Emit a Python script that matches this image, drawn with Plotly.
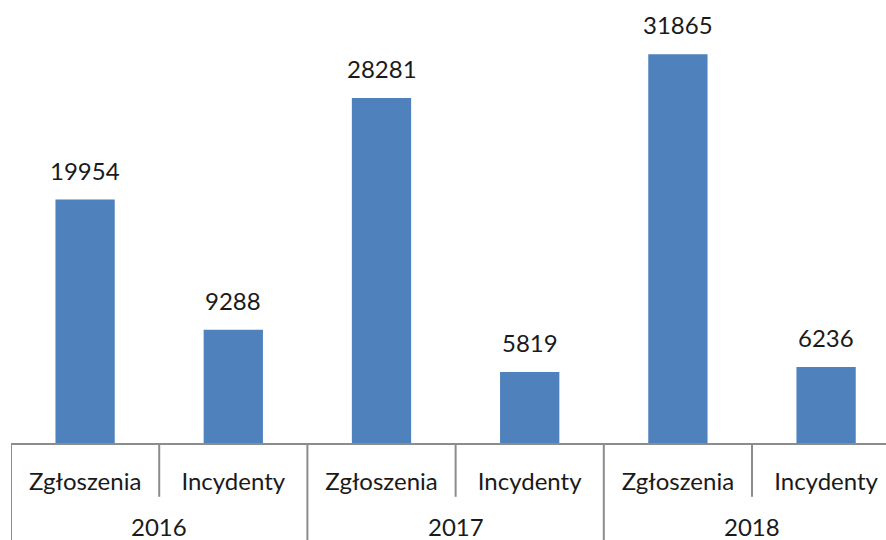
import plotly.graph_objects as go

# Yearly counts of reports (Zgłoszenia) and incidents (Incydenty)
years = ["2016", "2017", "2018"]
kinds = ["Zgłoszenia", "Incydenty"]
values = [19954, 9288, 28281, 5819, 31865, 6236]

labels = [k for _ in years for k in kinds]
xpos = list(range(len(values)))

BAR = "#4F81BD"
GRID = "#8C8C8C"
FONT = "Lato"
FS = 24

fig = go.Figure(
    go.Bar(
        x=xpos,
        y=values,
        width=0.4,
        marker=dict(color=BAR, line=dict(width=0)),
        hoverinfo="skip",
    )
)

# value labels above each bar
for x, v in zip(xpos, values):
    fig.add_annotation(
        x=x, y=v, xref="x", yref="y", text=str(v), showarrow=False,
        yanchor="bottom", yshift=13,
        font=dict(family=FONT, size=FS, color="#1a1a1a"),
    )

# year labels below the category row
n_kind = len(kinds)
for i, yr in enumerate(years):
    fig.add_annotation(
        x=i * n_kind + (n_kind - 1) / 2, y=-0.195, xref="x", yref="paper",
        text=yr, showarrow=False, yanchor="middle",
        font=dict(family=FONT, size=FS, color="#1a1a1a"),
    )

# divider lines under the axis: short ones between kinds, long ones between years
shapes = []
for b in range(len(values)):
    x = b - 0.5
    long_line = (b % n_kind == 0)
    shapes.append(dict(
        type="line", xref="x", yref="paper", x0=x, x1=x,
        y0=0, y1=-0.3 if long_line else -0.126,
        line=dict(color=GRID, width=2),
    ))
fig.update_layout(shapes=shapes)

fig.update_layout(
    width=886, height=540,
    margin=dict(l=11, r=0, t=16, b=97),
    plot_bgcolor="white", paper_bgcolor="white",
    showlegend=False,
    xaxis=dict(
        range=[-0.5, -0.5 + 875 / 148.2],
        tickmode="array", tickvals=xpos, ticktext=labels,
        showgrid=False, zeroline=False,
        showline=True, linecolor=GRID, linewidth=2,
        ticks="", ticklabelstandoff=16,
        tickfont=dict(family=FONT, size=FS, color="#1a1a1a"),
        fixedrange=True,
    ),
    yaxis=dict(
        range=[0, 35000], visible=False, fixedrange=True,
    ),
)

fig.write_html("out.html")
